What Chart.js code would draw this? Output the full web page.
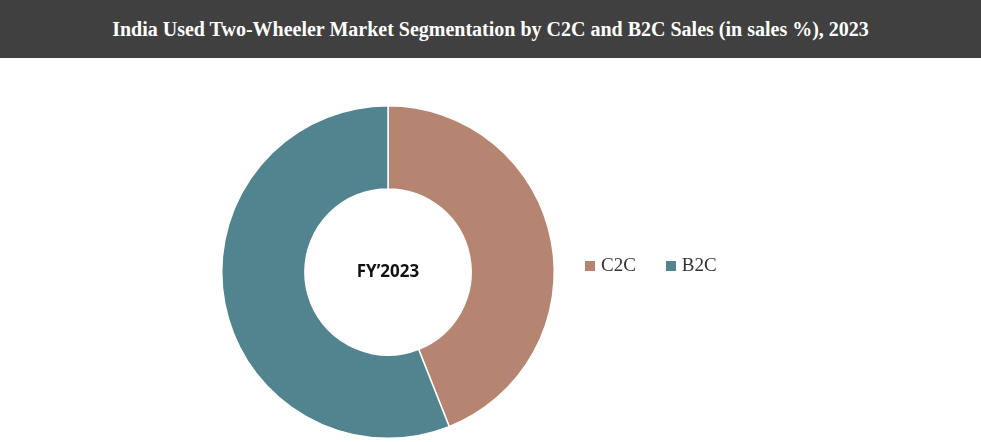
<!DOCTYPE html>
<html><head>
<script src="https://cdn.jsdelivr.net/npm/chart.js@4"></script>
<style>
body{margin:0;width:981px;height:442px;background:#fff;position:relative;overflow:hidden}
#title{position:absolute;left:0;top:0;width:981px;height:58px;background:#404040;color:#fff;font:bold 20px "Liberation Serif","DejaVu Serif",serif;display:flex;align-items:center;justify-content:center}
#wrap{position:absolute;left:0;top:105px;width:776px;height:334px}
#legend{position:absolute;left:585px;top:254px;font:19px "Liberation Serif",serif;color:#333;display:flex;gap:30px}
#legend span.sw{display:inline-block;width:10px;height:10px;margin-right:6px}
</style></head><body>
<div id="title">India Used Two-Wheeler Market Segmentation by C2C and B2C Sales (in sales %), 2023</div>
<div id="wrap"><canvas id="c"></canvas></div>
<div id="legend"></div>
<script>
const categories=["C2C","B2C"];
const values=[44,56];
const colors=["#B68571","#528490"];
const centerLabel="FY\u20192023";
document.getElementById('legend').innerHTML=categories.map((c,i)=>`<div><span class="sw" style="background:${colors[i]}"></span>${c}</div>`).join('');
const centerText={id:'ct',afterDraw(ch){const m=ch.getDatasetMeta(0).data[0];const x=ctxX=m.x,y=m.y;const g=ch.ctx;g.save();g.font='bold 17px "Open Sans",sans-serif';g.fillStyle='#111';g.textAlign='center';g.textBaseline='middle';g.fillText(centerLabel,x,y);g.restore();}};
new Chart(document.getElementById('c'),{type:'doughnut',data:{labels:categories,datasets:[{data:values,backgroundColor:colors,borderColor:'#fff',borderWidth:1.5}]},
options:{responsive:true,maintainAspectRatio:false,animation:false,cutout:'50%',layout:{padding:0},plugins:{legend:{display:false},tooltip:{enabled:false}}},plugins:[centerText]});
</script></body></html>
